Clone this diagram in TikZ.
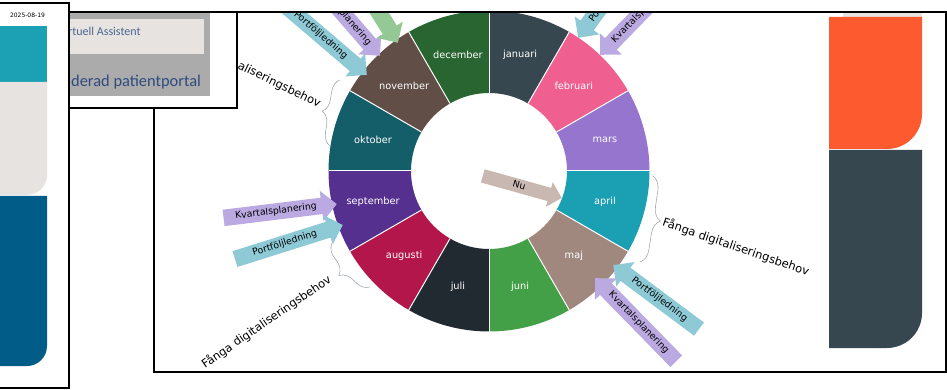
\documentclass[tikz,border=0pt]{standalone}
\usepackage{fontspec}
\setmainfont{DejaVu Sans}
\newfontfamily\portalfont{Carlito}
\usetikzlibrary{shapes.arrows,decorations.pathreplacing,calc}

% month colours
\definecolor{mJan}{HTML}{37474F}
\definecolor{mFeb}{HTML}{EF5F8F}
\definecolor{mMar}{HTML}{9575CD}
\definecolor{mApr}{HTML}{1A9FB3}
\definecolor{mMaj}{HTML}{A1887F}
\definecolor{mJun}{HTML}{43A047}
\definecolor{mJul}{HTML}{212A31}
\definecolor{mAug}{HTML}{B3164B}
\definecolor{mSep}{HTML}{55308F}
\definecolor{mOkt}{HTML}{135E69}
\definecolor{mNov}{HTML}{604E47}
\definecolor{mDec}{HTML}{286530}
% arrow colours
\definecolor{kvartal}{HTML}{BBA9E1}
\definecolor{portfolj}{HTML}{8ECAD6}
\definecolor{nuarrow}{HTML}{C9B8B1}
\definecolor{greenarrow}{HTML}{94C995}
\definecolor{bracegrey}{HTML}{A3AAAF}
% side panels
\definecolor{panelTeal}{HTML}{1BA0B4}
\definecolor{panelStone}{HTML}{E7E3E0}
\definecolor{panelBlue}{HTML}{015C88}
\definecolor{panelOrange}{HTML}{FE5A2F}
\definecolor{panelSlate}{HTML}{37474F}
\definecolor{portalGrey}{HTML}{ABABAB}
\definecolor{portalText}{HTML}{2E4B7E}

\tikzset{
  frame/.style={draw=black, line width=1.8pt},
  monthlabel/.style={text=white, font=\fontsize{9.8}{11}\selectfont, inner sep=0pt},
  flow/.style={single arrow, single arrow head extend=7pt,
    text height=7pt, text depth=2.3pt, inner xsep=0pt, inner ysep=3.4pt,
    anchor=tip, font=\fontsize{9.3}{11}\selectfont},
  backwards/.style={shape border rotate=180},
  arrowtext/.style={inner sep=0pt, font=\fontsize{9.3}{11}\selectfont},
  needtext/.style={inner sep=0pt, font=\fontsize{11.5}{13}\selectfont},
  curlybrace/.style={draw=bracegrey, line width=0.6pt, decorate,
    decoration={brace, amplitude=#1}},
  curlybrace/.default=12,
}

\begin{document}
\begin{tikzpicture}[x=1pt, y=1pt]
\useasboundingbox (0,0) rectangle (947,-390);

% ---------- year wheel ----------
\coordinate (c) at (489,-171);
\begin{scope}
  \clip (154,-12) rectangle (946,-372);
  \foreach \col [count=\i from 0] in {mJan,mFeb,mMar,mApr,mMaj,mJun,mJul,mAug,mSep,mOkt,mNov,mDec} {
    \pgfmathsetmacro\sa{90-30*\i}
    \pgfmathsetmacro\sb{60-30*\i}
    \fill[\col] ($(c)+(\sa:78)$) arc[start angle=\sa, end angle=\sb, radius=78]
      -- ($(c)+(\sb:160.5)$) arc[start angle=\sb, end angle=\sa, radius=160.5] -- cycle;
  }
  \foreach \sa in {0,30,...,330}
    \draw[white, line width=1pt] ($(c)+(\sa:78)$) -- ($(c)+(\sa:160.5)$);
  \foreach \name/\lab [count=\i from 0] in {jan/januari,feb/februari,mar/mars,apr/april,
      maj/maj,jun/juni,jul/juli,aug/augusti,sep/september,okt/oktober,nov/november,dec/december}
    \node[monthlabel] (m-\name) at ($(c)+({75-30*\i}:120)$) {\lab};

  % planning arrows
  \node[flow, fill=kvartal, rotate=7, minimum height=114pt] (kvSep) at (337,-204) {Kvartalsplanering};
  \node[flow, fill=portfolj, rotate=17.5, minimum height=113pt] (pfSep) at (343,-225) {Portföljledning};
  \node[flow, backwards, fill=portfolj, rotate=-36.7, minimum height=107pt] (pfMaj) at (613,-265) {Portföljledning};
  \node[flow, backwards, fill=kvartal, rotate=-45.7, minimum height=116pt] (kvMaj) at (595,-278) {Kvartalsplanering};
  \node[flow, fill=portfolj, rotate=-40.5, minimum height=113pt] (pfNov) at (367,-75) {Portföljledning};
  \node[flow, fill=kvartal, rotate=-49, minimum height=114pt] (kvNov) at (380,-56) {};
  \node[arrowtext, rotate=-49] (kvNovText) at ($(kvNov.tip)!38pt!(kvNov.tail)$) {planering};
  \node[flow, fill=greenarrow, rotate=-58, minimum height=110pt] (grNov) at (398,-43) {};
  \node[flow, backwards, fill=portfolj, rotate=54, minimum height=113pt] (pfFeb) at (578,-38) {};
  \node[arrowtext, rotate=54] (pfFebText) at ($(pfFeb.tip)!27pt!(pfFeb.tail)$) {Po};
  \node[flow, backwards, fill=kvartal, rotate=45.7, minimum height=114pt] (kvFeb) at (600,-55) {};
  \node[arrowtext, rotate=45.7] (kvFebText) at ($(kvFeb.tip)!41pt!(kvFeb.tail)$) {Kvartalsp};
  \node[flow, fill=nuarrow, rotate=-15.6, minimum height=82pt, inner ysep=2pt,
    single arrow head extend=6pt] (nu) at (562,-198) {Nu};

  % braces with their captions
  \coordinate (aprTop) at (653,-176);
  \coordinate (aprBot) at (640,-262);
  \draw[curlybrace=14] (aprTop) -- (aprBot);
  \node[needtext, rotate=-19, anchor=west] (needApr) at (663,-222) {Fånga digitaliseringsbehov};

  \coordinate (oktBot) at (330,-146);
  \coordinate (oktTop) at (340,-80);
  \draw[curlybrace=13] (oktBot) -- (oktTop);
  \node[needtext, rotate=-26, anchor=east] (needOkt) at (320,-105) {aliseringsbehov};

  \coordinate (augEnd) at (370,-287);
  \coordinate (augTop) at (332,-243);
  \draw[curlybrace=16] (augEnd) -- (augTop);
  \node[needtext, rotate=34.5, anchor=east] (needAug) at (330,-278) {Fånga digitaliseringsbehov};

  % right-hand panel blocks
  \fill[panelStone] (843,-13) rectangle (922,-17);
  \fill[panelOrange] (829,-17) -- (922,-17) -- (922,-114)
    arc[start angle=0, end angle=-90, radius=35] -- (829,-149) -- cycle;
  \fill[panelSlate] (829,-150) -- (922,-150) -- (922,-313)
    arc[start angle=0, end angle=-90, radius=35] -- (829,-348) -- cycle;
\end{scope}
\draw[frame] (154,-12) rectangle (946,-372);

% ---------- portal snippet ----------
\draw[frame, fill=white] (69,-12) rectangle (237,-108);
\fill[portalGrey] (70,-13) rectangle (210,-96);
\fill[panelStone] (70,-19) rectangle (204,-54);
\node[anchor=west, inner sep=0pt, text=portalText!85!white, font=\portalfont\fontsize{12}{14}\selectfont] (assistent) at (68,-31) {rtuell Assistent};
\node[anchor=west, inner sep=0pt, text=portalText, font=\portalfont\fontsize{16.4}{18}\selectfont] (portal) at (71,-82) {derad patientportal};

% ---------- left page strip ----------
\draw[frame, fill=white] (-3,-3) rectangle (69,-388);
\node[inner sep=0pt, font=\fontsize{6}{7}\selectfont] (date) at (27.5,-15) {2025-08-19};
\fill[panelTeal] (-3,-26) rectangle (47,-82);
\fill[panelStone] (-3,-82) -- (47,-82) -- (47,-175)
  arc[start angle=0, end angle=-90, radius=20] -- (-3,-195) -- cycle;
\fill[panelBlue] (-3,-196) -- (47,-196) -- (47,-346)
  arc[start angle=0, end angle=-90, radius=20] -- (-3,-366) -- cycle;
\end{tikzpicture}
\end{document}
